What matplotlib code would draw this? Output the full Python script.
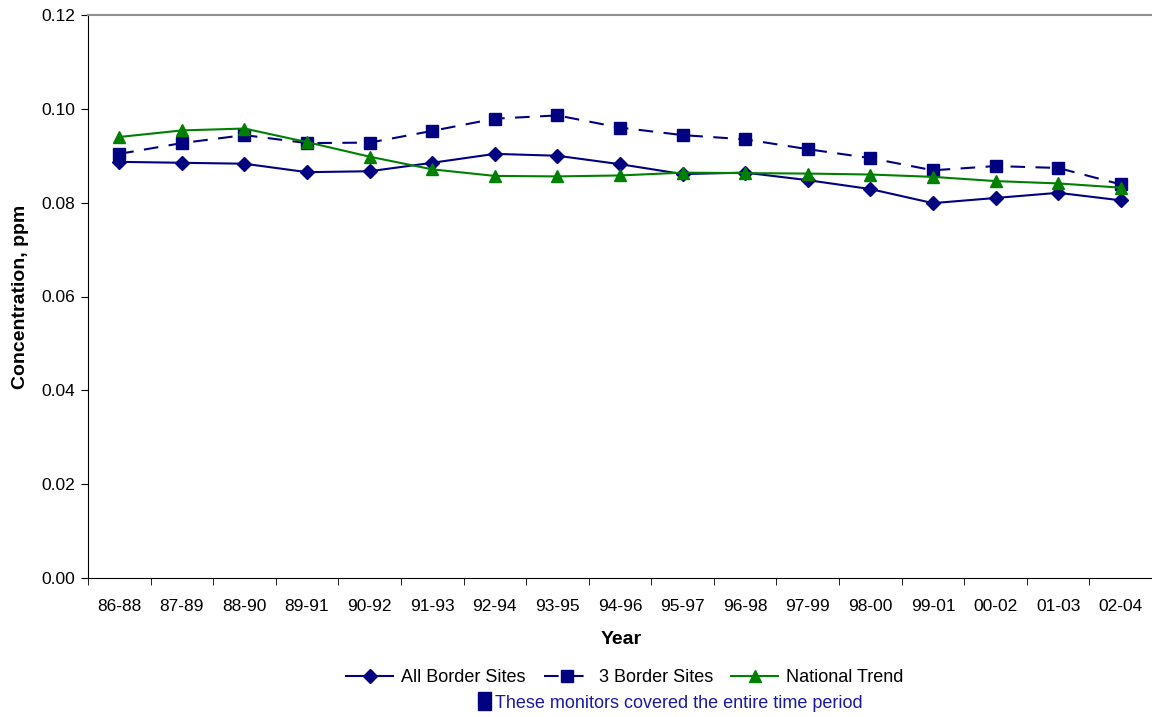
import matplotlib.pyplot as plt
from matplotlib.patches import Rectangle
import numpy as np

plt.rcParams['font.family'] = ['Liberation Sans', 'DejaVu Sans']

years = ['86-88', '87-89', '88-90', '89-91', '90-92', '91-93', '92-94', '93-95', '94-96',
         '95-97', '96-98', '97-99', '98-00', '99-01', '00-02', '01-03', '02-04']

all_border = [0.0887, 0.0885, 0.0883, 0.0865, 0.0867, 0.0885, 0.0904, 0.0900, 0.0882,
              0.0861, 0.0864, 0.0848, 0.0829, 0.0799, 0.0810, 0.0821, 0.0805]
three_border = [0.0904, 0.0927, 0.0944, 0.0927, 0.0928, 0.0953, 0.0979, 0.0986, 0.0960,
                0.0944, 0.0935, 0.0914, 0.0895, 0.0869, 0.0878, 0.0874, 0.0839]
national = [0.0940, 0.0954, 0.0958, 0.0929, 0.0898, 0.0871, 0.0857, 0.0856, 0.0858,
            0.0864, 0.0863, 0.0862, 0.0860, 0.0855, 0.0846, 0.0841, 0.0832]

navy = '#000080'
green = '#008000'

fig = plt.figure(figsize=(11.52, 7.17), dpi=100)
ax = fig.add_axes([88 / 1152, 1 - 578 / 717, 1 - 88 / 1152, (578 - 15) / 717])

x = np.arange(len(years))
ax.plot(x, all_border, color=navy, lw=1.5, marker='D', ms=7, label='All Border Sites')
ax.plot(x, three_border, color=navy, lw=1.5, ls=(0, (7, 5)), marker='s', ms=8.5,
        label='3 Border Sites')
ax.plot(x, national, color=green, lw=1.5, marker='^', ms=9, label='National Trend')

ax.set_xlim(-0.5, len(years) - 0.5)
ax.set_ylim(0, 0.12)
yt = np.arange(0, 0.121, 0.02)
ax.set_yticks(yt)
ax.set_yticklabels(['%.2f' % v for v in yt], fontsize=12.5)
ax.set_xticks(x)
ax.set_xticklabels(years, fontsize=12.5)
ax.set_xticks(np.arange(-0.5, len(years), 1), minor=True)
ax.tick_params(axis='x', which='major', length=0, pad=15)
ax.tick_params(axis='x', which='minor', length=5)
ax.tick_params(axis='y', length=5, pad=4)

ax.spines['right'].set_visible(False)
ax.spines['top'].set_color('#909090')
ax.spines['top'].set_linewidth(1.5)

ax.set_xlabel('Year', fontsize=14, fontweight='bold')
ax.xaxis.set_label_coords((621 - 88) / 1064, (578 - 631) / 563)
ax.set_ylabel('Concentration, ppm', fontsize=14, fontweight='bold')
ax.yaxis.set_label_coords((29 - 88) / 1064, 0.5)

ax.legend(loc='center', bbox_to_anchor=((625 - 88) / 1064, (578 - 678) / 563), ncol=3,
          frameon=False, fontsize=13, handlelength=2.6, columnspacing=1.0,
          handletextpad=0.45, borderaxespad=0)

# note below the legend
fig.add_artist(Rectangle((478 / 1152, 1 - 710 / 717), 13 / 1152, 18 / 717,
                         transform=fig.transFigure, color=navy))
fig.text(495 / 1152, 1 - 704 / 717, 'These monitors covered the entire time period',
         color='#1a1aa0', fontsize=13, va='center', ha='left')

fig.savefig('out.png', dpi=100)
